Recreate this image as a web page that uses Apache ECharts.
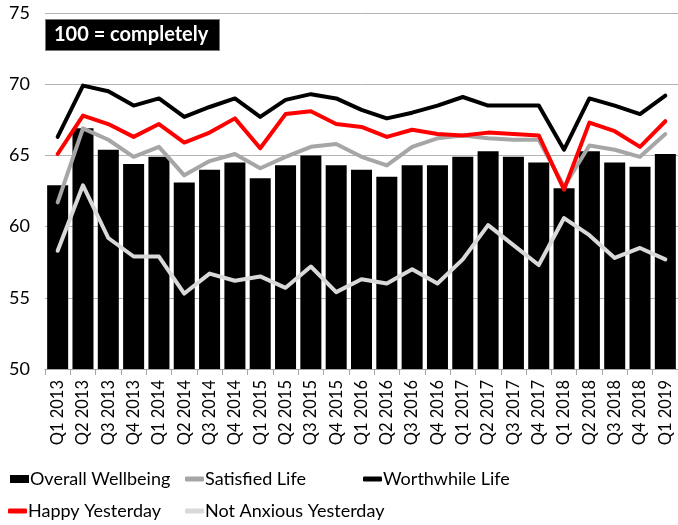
<!DOCTYPE html>
<html><head><meta charset="utf-8">
<script src="https://cdn.jsdelivr.net/npm/echarts@6/dist/echarts.min.js"></script>
<style>html,body{margin:0;padding:0;background:#fff}#c{width:678px;height:525px}</style>
</head><body><div id="c"></div>
<script>
const categories = ['Q1 2013','Q2 2013','Q3 2013','Q4 2013','Q1 2014','Q2 2014','Q3 2014','Q4 2014','Q1 2015','Q2 2015','Q3 2015','Q4 2015','Q1 2016','Q2 2016','Q3 2016','Q4 2016','Q1 2017','Q2 2017','Q3 2017','Q4 2017','Q1 2018','Q2 2018','Q3 2018','Q4 2018','Q1 2019'];
const overallWellbeing = [62.9,66.9,65.4,64.4,64.9,63.1,64.0,64.5,63.4,64.3,65.0,64.3,64.0,63.5,64.3,64.3,64.9,65.3,64.9,64.5,62.7,65.3,64.5,64.2,65.1];
const satisfiedLife = [61.7,66.9,66.1,64.9,65.6,63.6,64.6,65.1,64.1,64.9,65.6,65.8,64.9,64.3,65.6,66.2,66.4,66.2,66.1,66.1,62.8,65.7,65.4,64.9,66.5];
const worthwhileLife = [66.3,69.9,69.5,68.5,69.0,67.7,68.4,69.0,67.7,68.9,69.3,69.0,68.2,67.6,68.0,68.5,69.1,68.5,68.5,68.5,65.4,69.0,68.5,67.9,69.2];
const happyYesterday = [65.1,67.8,67.2,66.3,67.2,65.9,66.6,67.6,65.5,67.9,68.1,67.2,67.0,66.3,66.8,66.5,66.4,66.6,66.5,66.4,62.6,67.3,66.7,65.6,67.4];
const notAnxiousYesterday = [58.3,62.9,59.2,57.9,57.9,55.3,56.7,56.2,56.5,55.7,57.2,55.4,56.3,56.0,57.0,56.0,57.7,60.1,58.7,57.3,60.6,59.4,57.8,58.5,57.7];
const yTicks = {min: 50, max: 75, interval: 5};

const FONT = 'Lato';
const chart = echarts.init(document.getElementById('c'));
const lineSeries = (name, data, color) => ({
  name, type: 'line', data, symbol: 'none',
  lineStyle: {color, width: 4, cap: 'round', join: 'round'},
  itemStyle: {color}
});
const legendItem = (name, left, top, icon, h) => ({
  data: [{name, icon}], left, top, itemWidth: 19, itemHeight: h, itemGap: 0,
  padding: 0, selectedMode: false,
  textStyle: {fontFamily: FONT, fontSize: 18, color: '#000', padding: [0,0,0,-4]}
});
chart.setOption({
  animation: false,
  title: {
    text: '100 = completely', left: 45, top: 19,
    backgroundColor: '#000', borderColor: '#777', borderWidth: 1,
    padding: [6, 11, 6, 9],
    textStyle: {color: '#fff', fontFamily: FONT, fontWeight: 'bold', fontSize: 20}
  },
  grid: {left: 45, right: -3, top: 13, bottom: 156, containLabel: false},
  legend: [
    legendItem('Overall Wellbeing', 10, 470, 'rect', 8),
    legendItem('Satisfied Life', 185, 470, 'roundRect', 5),
    legendItem('Worthwhile Life', 363, 470, 'roundRect', 5),
    legendItem('Happy Yesterday', 8, 502, 'roundRect', 5),
    legendItem('Not Anxious Yesterday', 185, 502, 'roundRect', 5)
  ],
  xAxis: {
    type: 'category', data: categories, boundaryGap: true,
    axisLine: {lineStyle: {color: '#a6a6a6', width: 1}},
    axisTick: {show: true, length: 6, lineStyle: {color: '#a6a6a6'}},
    axisLabel: {rotate: 90, margin: 11, fontFamily: FONT, fontSize: 16.5, color: '#000', interval: 0}
  },
  yAxis: {
    type: 'value', min: yTicks.min, max: yTicks.max, interval: yTicks.interval,
    axisLine: {show: false}, axisTick: {show: false},
    splitLine: {lineStyle: {color: '#b4b4b4', width: 1}},
    axisLabel: {margin: 15, fontFamily: FONT, fontSize: 18, color: '#000'}
  },
  series: [
    {name: 'Overall Wellbeing', type: 'bar', data: overallWellbeing, barCategoryGap: '17%', itemStyle: {color: '#000'}},
    lineSeries('Satisfied Life', satisfiedLife, '#a6a6a6'),
    lineSeries('Worthwhile Life', worthwhileLife, '#000'),
    lineSeries('Happy Yesterday', happyYesterday, '#ff0000'),
    lineSeries('Not Anxious Yesterday', notAnxiousYesterday, '#d9d9d9')
  ]
});
</script></body></html>
